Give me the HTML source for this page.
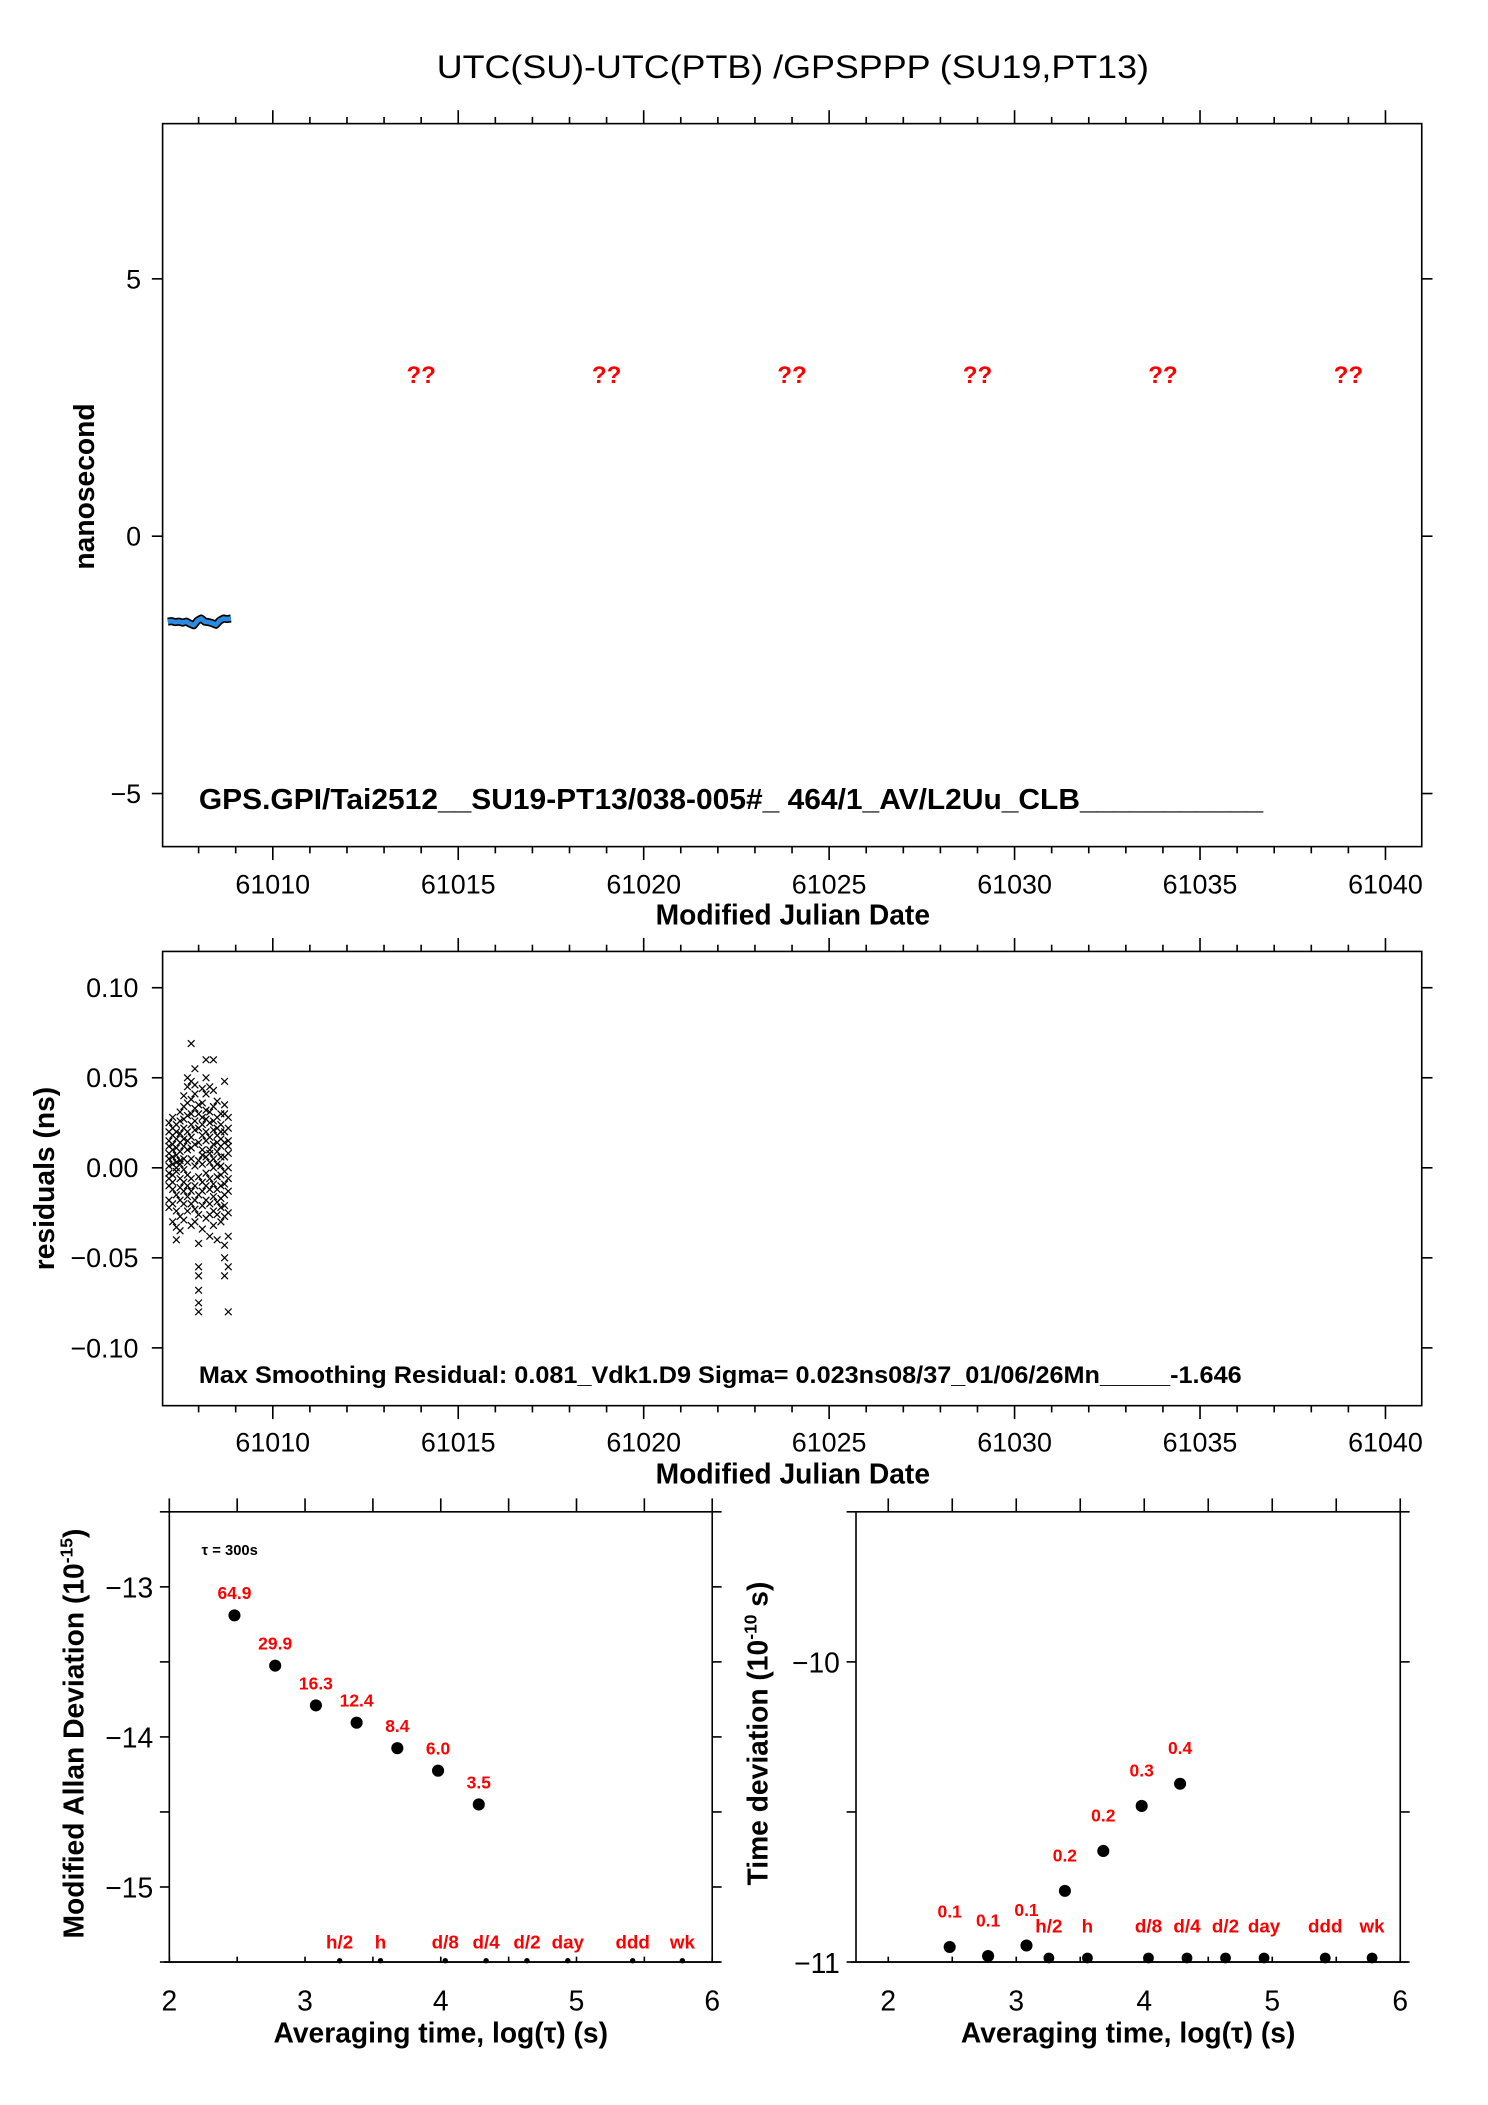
<!DOCTYPE html>
<html><head><meta charset="utf-8">
<style>
html,body{margin:0;padding:0;background:#fff;}
svg{display:block;}
text{font-family:"Liberation Sans Narrow","Liberation Sans",sans-serif;}
</style></head>
<body>
<svg id="chart" width="1488" height="2105" viewBox="0 0 1107.3 1566.4" preserveAspectRatio="none" xmlns="http://www.w3.org/2000/svg">
<rect width="1110" height="1570" fill="#fff"/>
<text x="590" y="58" font-size="24" text-anchor="middle" textLength="530" lengthAdjust="spacingAndGlyphs">UTC(SU)-UTC(PTB)  /GPSPPP  (SU19,PT13)</text>
<g id="g1"></g>
<g id="g2"></g>
<g id="g3"></g>
<g id="g4"></g>
</svg>
<script>
// ---- data ----
const tsMjd = [61007.17,61007.27,61007.37,61007.47,61007.57,61007.67,61007.77,61007.87,61007.97,61008.07,61008.17,61008.27,61008.37,61008.47,61008.57,61008.67,61008.77,61008.87];
const tsVal = [-1.66,-1.65,-1.67,-1.66,-1.68,-1.66,-1.70,-1.73,-1.64,-1.60,-1.66,-1.67,-1.69,-1.72,-1.64,-1.60,-1.61,-1.60];
const qMjd = [61014,61019,61024,61029,61034,61039];
const topYTicks = [5,0,-5];
const mjdTicks = [61010,61015,61020,61025,61030,61035,61040];
const resYTicks = [0.10,0.05,0.00,-0.05,-0.10];
const resYLabels = ["0.10","0.05","0.00","\u22120.05","\u22120.10"];
const resMjd = [
61007.2,61007.2,61007.2,61007.2,61007.2,61007.2,61007.2,61007.2,61007.2,61007.2,61007.2,61007.2,
61007.3,61007.3,61007.3,61007.3,61007.3,61007.3,61007.3,61007.3,61007.3,61007.3,61007.3,61007.3,
61007.4,61007.4,61007.4,61007.4,61007.4,61007.4,61007.4,61007.4,61007.4,61007.4,61007.4,61007.4,
61007.5,61007.5,61007.5,61007.5,61007.5,61007.5,61007.5,61007.5,61007.5,61007.5,61007.5,61007.5,
61007.6,61007.6,61007.6,61007.6,61007.6,61007.6,61007.6,61007.6,61007.6,61007.6,61007.6,61007.6,
61007.7,61007.7,61007.7,61007.7,61007.7,61007.7,61007.7,61007.7,61007.7,61007.7,61007.7,61007.7,
61007.8,61007.8,61007.8,61007.8,61007.8,61007.8,61007.8,61007.8,61007.8,61007.8,61007.8,61007.8,
61007.9,61007.9,61007.9,61007.9,61007.9,61007.9,61007.9,61007.9,61007.9,61007.9,61007.9,61007.9,
61008.0,61008.0,61008.0,61008.0,61008.0,61008.0,61008.0,61008.0,61008.0,61008.0,61008.0,61008.0,61008.0,61008.0,
61008.1,61008.1,61008.1,61008.1,61008.1,61008.1,61008.1,61008.1,61008.1,61008.1,61008.1,61008.1,
61008.2,61008.2,61008.2,61008.2,61008.2,61008.2,61008.2,61008.2,61008.2,61008.2,61008.2,61008.2,
61008.3,61008.3,61008.3,61008.3,61008.3,61008.3,61008.3,61008.3,61008.3,61008.3,61008.3,61008.3,
61008.4,61008.4,61008.4,61008.4,61008.4,61008.4,61008.4,61008.4,61008.4,61008.4,61008.4,61008.4,
61008.5,61008.5,61008.5,61008.5,61008.5,61008.5,61008.5,61008.5,61008.5,61008.5,61008.5,61008.5,
61008.6,61008.6,61008.6,61008.6,61008.6,61008.6,61008.6,61008.6,61008.6,61008.6,61008.6,61008.6,
61008.7,61008.7,61008.7,61008.7,61008.7,61008.7,61008.7,61008.7,61008.7,61008.7,61008.7,61008.7,61008.7,61008.7,
61008.8,61008.8,61008.8,61008.8,61008.8,61008.8,61008.8,61008.8,61008.8,61008.8,61008.8,61008.8];
const resVal = [
0.012,0.005,-0.003,0.020,-0.010,0.001,0.015,-0.018,0.008,-0.006,0.025,-0.022,
0.018,-0.004,0.010,-0.012,0.002,0.022,-0.020,0.006,-0.030,0.013,-0.008,0.028,
0.003,-0.015,0.020,0.011,-0.024,0.007,-0.002,0.016,-0.033,0.024,0.000,-0.040,
-0.006,0.014,0.026,-0.018,0.004,0.031,-0.011,0.009,-0.027,0.019,-0.035,0.002,
0.034,0.012,-0.008,0.022,-0.020,0.005,0.040,-0.013,0.016,-0.029,0.027,-0.001,
0.045,0.020,-0.004,0.010,-0.016,0.029,0.050,-0.024,0.003,0.036,-0.010,0.015,
0.069,0.048,0.030,0.011,-0.006,-0.020,0.024,0.038,-0.013,0.005,-0.032,0.017,
0.055,0.041,0.021,0.001,-0.018,-0.030,0.033,-0.010,0.013,0.026,-0.023,0.046,
0.035,0.014,-0.005,-0.026,-0.042,-0.055,-0.060,-0.068,-0.075,-0.080,0.022,0.004,-0.015,0.030,
0.044,0.028,0.010,-0.008,-0.021,0.018,0.002,-0.034,0.036,-0.013,0.007,0.024,
0.060,0.050,0.032,0.015,-0.003,-0.018,-0.028,0.041,0.020,-0.010,0.006,0.027,
0.025,0.010,-0.006,-0.020,-0.038,0.031,0.017,-0.012,0.003,0.045,-0.026,0.008,
0.060,0.043,0.021,0.005,-0.009,-0.024,-0.032,0.013,-0.016,0.034,0.000,0.026,
0.037,0.018,0.002,-0.012,-0.026,-0.040,0.028,0.009,-0.019,0.014,-0.005,0.022,
0.030,0.012,-0.004,-0.017,-0.030,0.020,0.006,-0.010,0.024,-0.022,0.016,0.001,
0.048,0.030,0.014,-0.002,-0.015,-0.027,-0.043,-0.050,-0.060,0.020,0.006,-0.009,0.035,-0.021,
0.028,0.015,0.000,-0.013,-0.025,-0.038,-0.055,-0.080,0.022,0.008,-0.006,0.012];
const adevX = [2.48,2.78,3.08,3.38,3.68,3.98,4.28];
const adevY = [-13.19,-13.525,-13.79,-13.905,-14.075,-14.225,-14.45];
const adevLbl = ["64.9","29.9","16.3","12.4","8.4","6.0","3.5"];
const tdevX = [2.48,2.78,3.08,3.38,3.68,3.98,4.28];
const tdevY = [-10.95,-10.98,-10.945,-10.763,-10.63,-10.48,-10.406];
const tdevLbl = ["0.1","0.1","0.1","0.2","0.2","0.3","0.4"];
const markX = [3.255,3.556,4.033,4.334,4.635,4.936,5.414,5.78];
const markLbl = ["h/2","h","d/8","d/4","d/2","day","ddd","wk"];
const logTicks = [2,3,4,5,6];
const adevYTicks = [-13,-14,-15];
const tdevYTicks = [-10,-11];

const NS="http://www.w3.org/2000/svg";
function mk(parent,tag,attrs,txt){const e=document.createElementNS(NS,tag);for(const k in attrs)e.setAttribute(k,attrs[k]);if(txt!==undefined)e.textContent=txt;parent.appendChild(e);return e;}
function ln(p,x1,y1,x2,y2,w){return mk(p,'line',{x1:x1,y1:y1,x2:x2,y2:y2,stroke:'#000','stroke-width':w||1.2});}

// ---- panel 1 ----
const g1=document.getElementById('g1');
const L1=121,R1=1058,T1=92,B1=630;
const x1=m=>203+(m-61010)*27.6, y1=v=>399-v*38.3;
let f=mk(g1,'rect',{x:L1,y:T1,width:R1-L1,height:B1-T1,fill:'none',stroke:'#000','stroke-width':1.2});

for(let m=61008;m<=61040;m++){const big=m%5===0;const xx=x1(m);ln(g1,xx,T1,xx,T1-(big?10:5));ln(g1,xx,B1,xx,B1+(big?10:5));}
topYTicks.forEach(v=>{ln(g1,L1,y1(v),L1-8,y1(v));ln(g1,R1,y1(v),R1+8,y1(v));
 const t=mk(g1,'text',{x:L1-16,y:y1(v)+7,'font-size':20,'text-anchor':'end'},v<0?'\u2212'+Math.abs(v):String(v));
 });
mjdTicks.forEach(m=>{const t=mk(g1,'text',{x:x1(m),y:665,'font-size':20,'text-anchor':'middle'},String(m));
 });
let pts=tsMjd.map((m,i)=>x1(m)+','+y1(tsVal[i])).join(' ');
let pl=mk(g1,'polyline',{points:pts,fill:'none',stroke:'#000','stroke-width':6,'stroke-linejoin':'round'});

pl=mk(g1,'polyline',{points:pts,fill:'none',stroke:'#2b8be0','stroke-width':3.5,'stroke-linejoin':'round'});

qMjd.forEach(m=>{const t=mk(g1,'text',{x:x1(m),y:285,'font-size':18,'font-weight':'bold',fill:'#f00','text-anchor':'middle'},'??');
 });
let t=mk(g1,'text',{x:148,y:602,'font-size':21,'font-weight':'bold',textLength:792,lengthAdjust:'spacingAndGlyphs'},'GPS.GPI/Tai2512__SU19-PT13/038-005#_  464/1_AV/L2Uu_CLB___________');

t=mk(g1,'text',{x:590,y:688,'font-size':21,'font-weight':'bold','text-anchor':'middle'},'Modified Julian Date');

t=mk(g1,'text',{x:0,y:0,'font-size':21,'font-weight':'bold','text-anchor':'middle',transform:'translate(70,362) rotate(-90)'},'nanosecond');


// ---- panel 2 ----
const g2=document.getElementById('g2');
const T2=708,B2=1046;
const y2=v=>869-v*1340;
f=mk(g2,'rect',{x:L1,y:T2,width:R1-L1,height:B2-T2,fill:'none',stroke:'#000','stroke-width':1.2});

for(let m=61008;m<=61040;m++){const big=m%5===0;const xx=x1(m);ln(g2,xx,T2,xx,T2-(big?10:5));ln(g2,xx,B2,xx,B2+(big?10:5));}
resYTicks.forEach((v,i)=>{ln(g2,L1,y2(v),L1-8,y2(v));ln(g2,R1,y2(v),R1+8,y2(v));
 const tt=mk(g2,'text',{x:L1-18,y:y2(v)+7,'font-size':20,'text-anchor':'end'},resYLabels[i]);
 });
mjdTicks.forEach(m=>{const tt=mk(g2,'text',{x:x1(m),y:1080,'font-size':20,'text-anchor':'middle'},String(m));
 });
resMjd.forEach((m,i)=>{const cx=x1(m),cy=y2(resVal[i]);
 const p=mk(g2,'path',{d:`M${cx-2.5},${cy-2.5}L${cx+2.5},${cy+2.5}M${cx-2.5},${cy+2.5}L${cx+2.5},${cy-2.5}`,stroke:'#000','stroke-width':0.9});
 });
t=mk(g2,'text',{x:148,y:1029,'font-size':18,'font-weight':'bold',textLength:776,lengthAdjust:'spacingAndGlyphs'},'Max Smoothing Residual: 0.081_Vdk1.D9  Sigma= 0.023ns08/37_01/06/26Mn_____-1.646');

t=mk(g2,'text',{x:590,y:1104,'font-size':21,'font-weight':'bold','text-anchor':'middle'},'Modified Julian Date');

t=mk(g2,'text',{x:0,y:0,'font-size':21,'font-weight':'bold','text-anchor':'middle',transform:'translate(40,877) rotate(-90)'},'residuals (ns)');


// ---- panel 3 & 4 ----
function logPanel(g,L,R,x0,xs,ymax,yspan,yTicks,xs_,ys_,lbls,lblOff,markY,bigMarks,markLblY,title,titleX){
 const T=1125,B=1460;
 const X=v=>x0+(v-2)*xs, Y=v=>T+(ymax-v)/yspan*(B-T);
 const fr=mk(g,'rect',{x:L,y:T,width:R-L,height:B-T,fill:'none',stroke:'#000','stroke-width':1.2});
 
 ln(g,L-4,B,R+6,B);
 for(let v=2;v<=6;v+=0.5){ln(g,X(v),T,X(v),T-10);ln(g,X(v),B,X(v),B-4);}
 for(let v=Math.ceil((ymax-yspan)*2)/2;v<=ymax;v+=0.5){ln(g,L,Y(v),L-7,Y(v));ln(g,R,Y(v),R+7,Y(v));}
 yTicks.forEach(v=>{const tt=mk(g,'text',{x:L-12,y:Y(v)+8,'font-size':21,'text-anchor':'end'},'\u2212'+Math.abs(v));
  });
 logTicks.forEach(v=>{const tt=mk(g,'text',{x:X(v),y:1496,'font-size':21,'text-anchor':'middle'},String(v));
  });
 xs_.forEach((v,i)=>{const c=mk(g,'circle',{cx:X(v),cy:Y(ys_[i]),r:4.5,fill:'#000'});
  
  const tt=mk(g,'text',{x:X(v),y:Y(ys_[i])-lblOff,'font-size':13,'font-weight':'bold',fill:'#f00','text-anchor':'middle'},lbls[i]);
  });
 markX.forEach((v,i)=>{const c=mk(g,'circle',{cx:X(v),cy:markY,r:bigMarks?4:2,fill:'#000'});
  
  const tt=mk(g,'text',{x:X(v),y:markLblY,'font-size':14,'font-weight':'bold',fill:'#f00','text-anchor':'middle'},markLbl[i]);
  });
 const xt=mk(g,'text',{x:(L+R)/2,y:1520,'font-size':21,'font-weight':'bold','text-anchor':'middle'},'Averaging time, log(\u03c4) (s)');
 
 const yt=mk(g,'text',{x:0,y:0,'font-size':21,'font-weight':'bold','text-anchor':'middle',transform:`translate(${titleX},1290) rotate(-90)`});
 yt.innerHTML=title;
 
 return {X,Y};
}
const g3=document.getElementById('g3');
logPanel(g3,126,530,126,101,-12.5,3,adevYTicks,adevX,adevY,adevLbl,12,1459,false,1450,'Modified Allan Deviation (10<tspan font-size="13" dy="-8">-15</tspan><tspan dy="8">)</tspan>',62);
let tau=mk(g3,'text',{x:150,y:1157,'font-size':11,'font-weight':'bold'},'\u03c4 = 300s');

const g4=document.getElementById('g4');
logPanel(g4,637,1042,661,95.25,-9.5,1.5,tdevYTicks,tdevX,tdevY,tdevLbl,22,1457,true,1438,'Time deviation (10<tspan font-size="13" dy="-8">-10</tspan><tspan dy="8"> s)</tspan>',571);
</script>
</body></html>
